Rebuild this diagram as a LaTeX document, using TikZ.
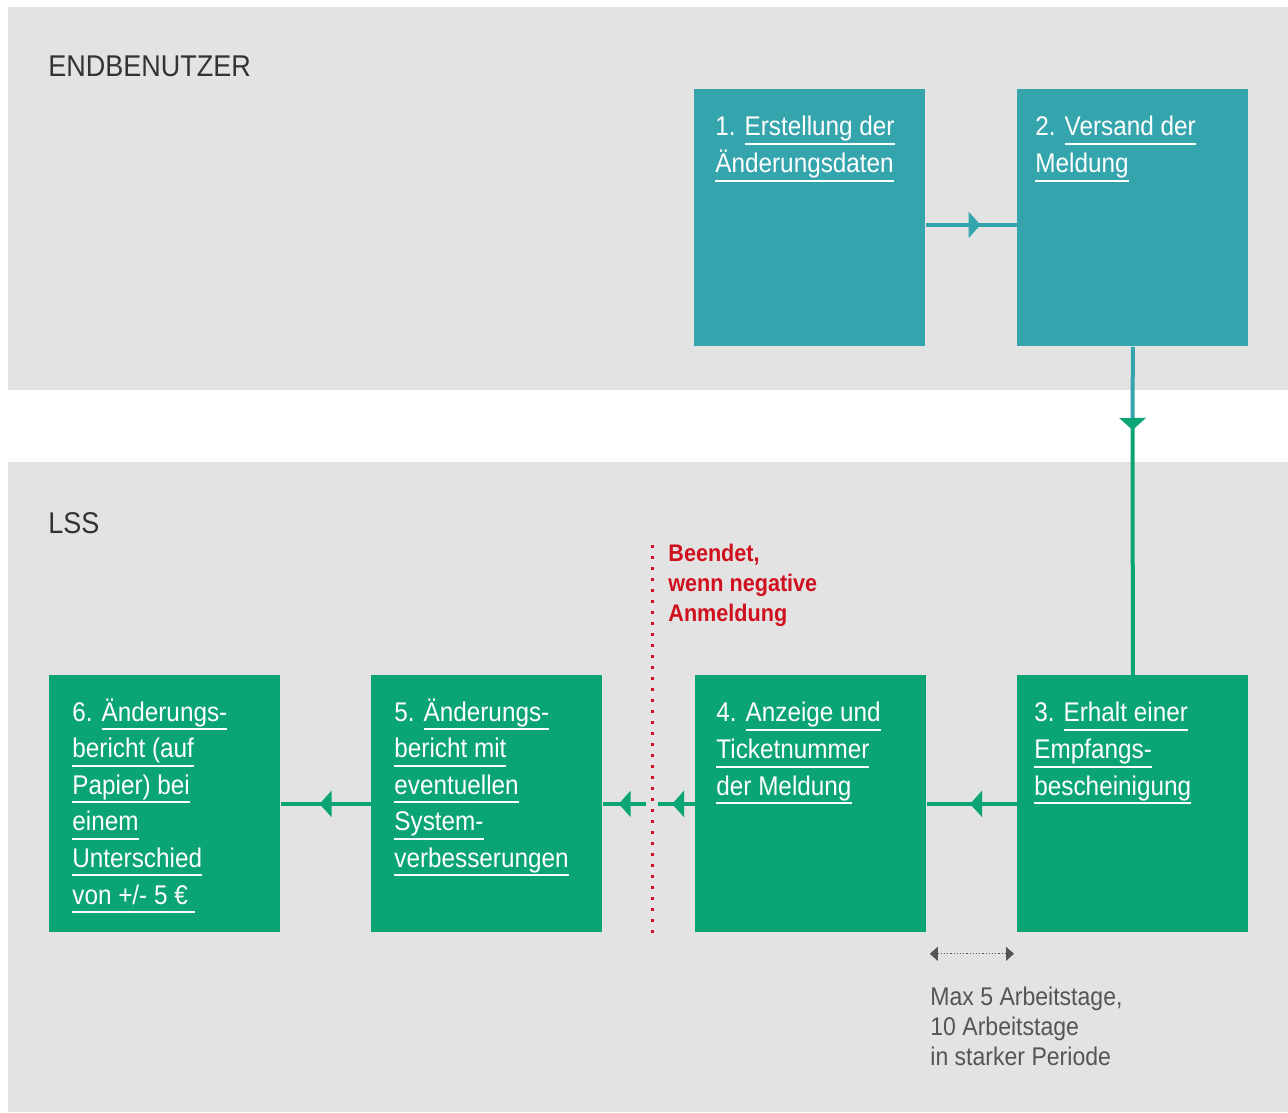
\documentclass[tikz,border=0pt]{standalone}
\usepackage{fontspec}
\setmainfont[FakeStretch=0.9]{Liberation Sans}
\usetikzlibrary{arrows.meta,decorations.markings,positioning}

\definecolor{boxteal}{HTML}{35A5AD}
\definecolor{boxgreen}{HTML}{0BA575}
\definecolor{lanegray}{HTML}{E3E3E3}
\definecolor{stopred}{HTML}{D0101E}
\definecolor{notegray}{HTML}{555555}
\definecolor{labelgray}{HTML}{333333}

\newcommand\linkline[1]{\vtop{\hbox{\raisebox{0pt}[\height][0pt]{#1}\rule[-3pt]{0pt}{3pt}}\kern0.5pt\hrule height 1pt}}

\tikzset{
	stepbox/.style={fill=#1, minimum width=115.5pt, minimum height=128.5pt, inner sep=0pt, anchor=north west},
	steptext/.style={text=white, align=left, inner sep=0pt, anchor=north west, font=\fontsize{13.5}{18.3}\selectfont},
	lanelabel/.style={text=labelgray, anchor=base west, inner sep=0pt, font=\fontsize{15}{18}\selectfont},
	flow/.style={line width=2pt, color=#1},
	midarrow/.style={postaction={decorate}, decoration={markings, mark=at position #1 with {\arrow{Triangle[length=6pt,width=13pt]}}}},
	stopline/.style={stopred, line width=1.5pt, dash pattern=on 1.5pt off 4pt},
	stoptext/.style={text=stopred, align=left, inner sep=0pt, anchor=north west, font=\bfseries\fontsize{12}{15}\selectfont},
	spanline/.style={notegray, line width=0.6pt, dash pattern=on 0.6pt off 1pt, {Triangle[length=4pt,width=7pt]}-{Triangle[length=4pt,width=7pt]}},
	notetext/.style={text=notegray, align=left, inner sep=0pt, anchor=north west, font=\fontsize{12.8}{15}\selectfont},
}

\begin{document}
\begin{tikzpicture}[x=0.5pt,y=-0.5pt]
	\useasboundingbox (0,0) rectangle (1288,1112);

	% swimlanes
	\fill[lanegray] (8,7) rectangle (1288,390);
	\fill[lanegray] (8,462) rectangle (1288,1112);
	\node[lanelabel] (endb) at (48,77) {ENDBENUTZER};
	\node[lanelabel] (lss) at (48,533) {LSS};

	% steps
	\node[stepbox=boxteal] (s1) at (694,89) {};
	\node[stepbox=boxteal] (s2) at (1017,89) {};
	\node[stepbox=boxgreen] (s3) at (1017,675) {};
	\node[stepbox=boxgreen] (s4) at (695,675) {};
	\node[stepbox=boxgreen] (s5) at (371,675) {};
	\node[stepbox=boxgreen] (s6) at (49,675) {};

	\node[steptext] (t1) at ([shift={(10.5pt,-13.5pt)}]s1.north west) {1. \linkline{Erstellung der}\\\linkline{Änderungsdaten}};
	\node[steptext] (t2) at ([shift={(9pt,-13.5pt)}]s2.north west) {2. \linkline{Versand der}\\\linkline{Meldung}};
	\node[steptext] (t3) at ([shift={(8.5pt,-13.5pt)}]s3.north west) {3. \linkline{Erhalt einer}\\\linkline{Empfangs-}\\\linkline{bescheinigung}};
	\node[steptext] (t4) at ([shift={(10.5pt,-13.5pt)}]s4.north west) {4. \linkline{Anzeige und}\\\linkline{Ticketnummer}\\\linkline{der Meldung}};
	\node[steptext] (t5) at ([shift={(11.5pt,-11.5pt)}]s5.north west) {5. \linkline{Änderungs-}\\\linkline{bericht mit}\\\linkline{eventuellen}\\\linkline{System-}\\\linkline{verbesserungen}};
	\node[steptext] (t6) at ([shift={(11.5pt,-11.5pt)}]s6.north west) {6. \linkline{Änderungs-}\\\linkline{bericht (auf}\\\linkline{Papier) bei}\\\linkline{einem}\\\linkline{Unterschied}\\\linkline{von +/- 5 €\ }};

	% connectors
	\coordinate (drop) at (1132.5,418);
	\coordinate (cutR) at ([xshift=-18.5pt]s4.west);
	\coordinate (cutL) at ([xshift=21.5pt]s5.east);
	\draw[flow=boxteal, midarrow=0.6] ([yshift=-3.5pt]s1.east) -- ([yshift=-3.5pt]s2.west);
	\draw[flow=boxteal] (s2.south) -- (drop);
	\draw[flow=boxgreen, midarrow=6pt] (drop) -- (s3.north);
	\draw[flow=boxgreen, midarrow=0.52] (s3.west) -- (s4.east);
	\draw[flow=boxgreen, midarrow=0.62] (s4.west) -- (cutR);
	\draw[flow=boxgreen, midarrow=0.63] (cutL) -- (s5.east);
	\draw[flow=boxgreen, midarrow=0.57] (s5.west) -- (s6.east);

	% stop marker
	\coordinate (stoptop) at (652,545);
	\coordinate (stopbot) at (652,935);
	\draw[stopline] (stoptop) -- (stopbot);
	\node[stoptext] (stopnote) at (668,544) {Beendet,\\wenn negative\\Anmeldung};

	% time span
	\coordinate (spanL) at ([shift={(1.5pt,-10.5pt)}]s4.south east);
	\coordinate (spanR) at ([shift={(-1.5pt,-10.5pt)}]s3.south west);
	\draw[spanline] (spanL) -- (spanR);
	\node[notetext] (spannote) at (930,987) {Max 5 Arbeitstage,\\10 Arbeitstage\\in starker Periode};
\end{tikzpicture}
\end{document}
